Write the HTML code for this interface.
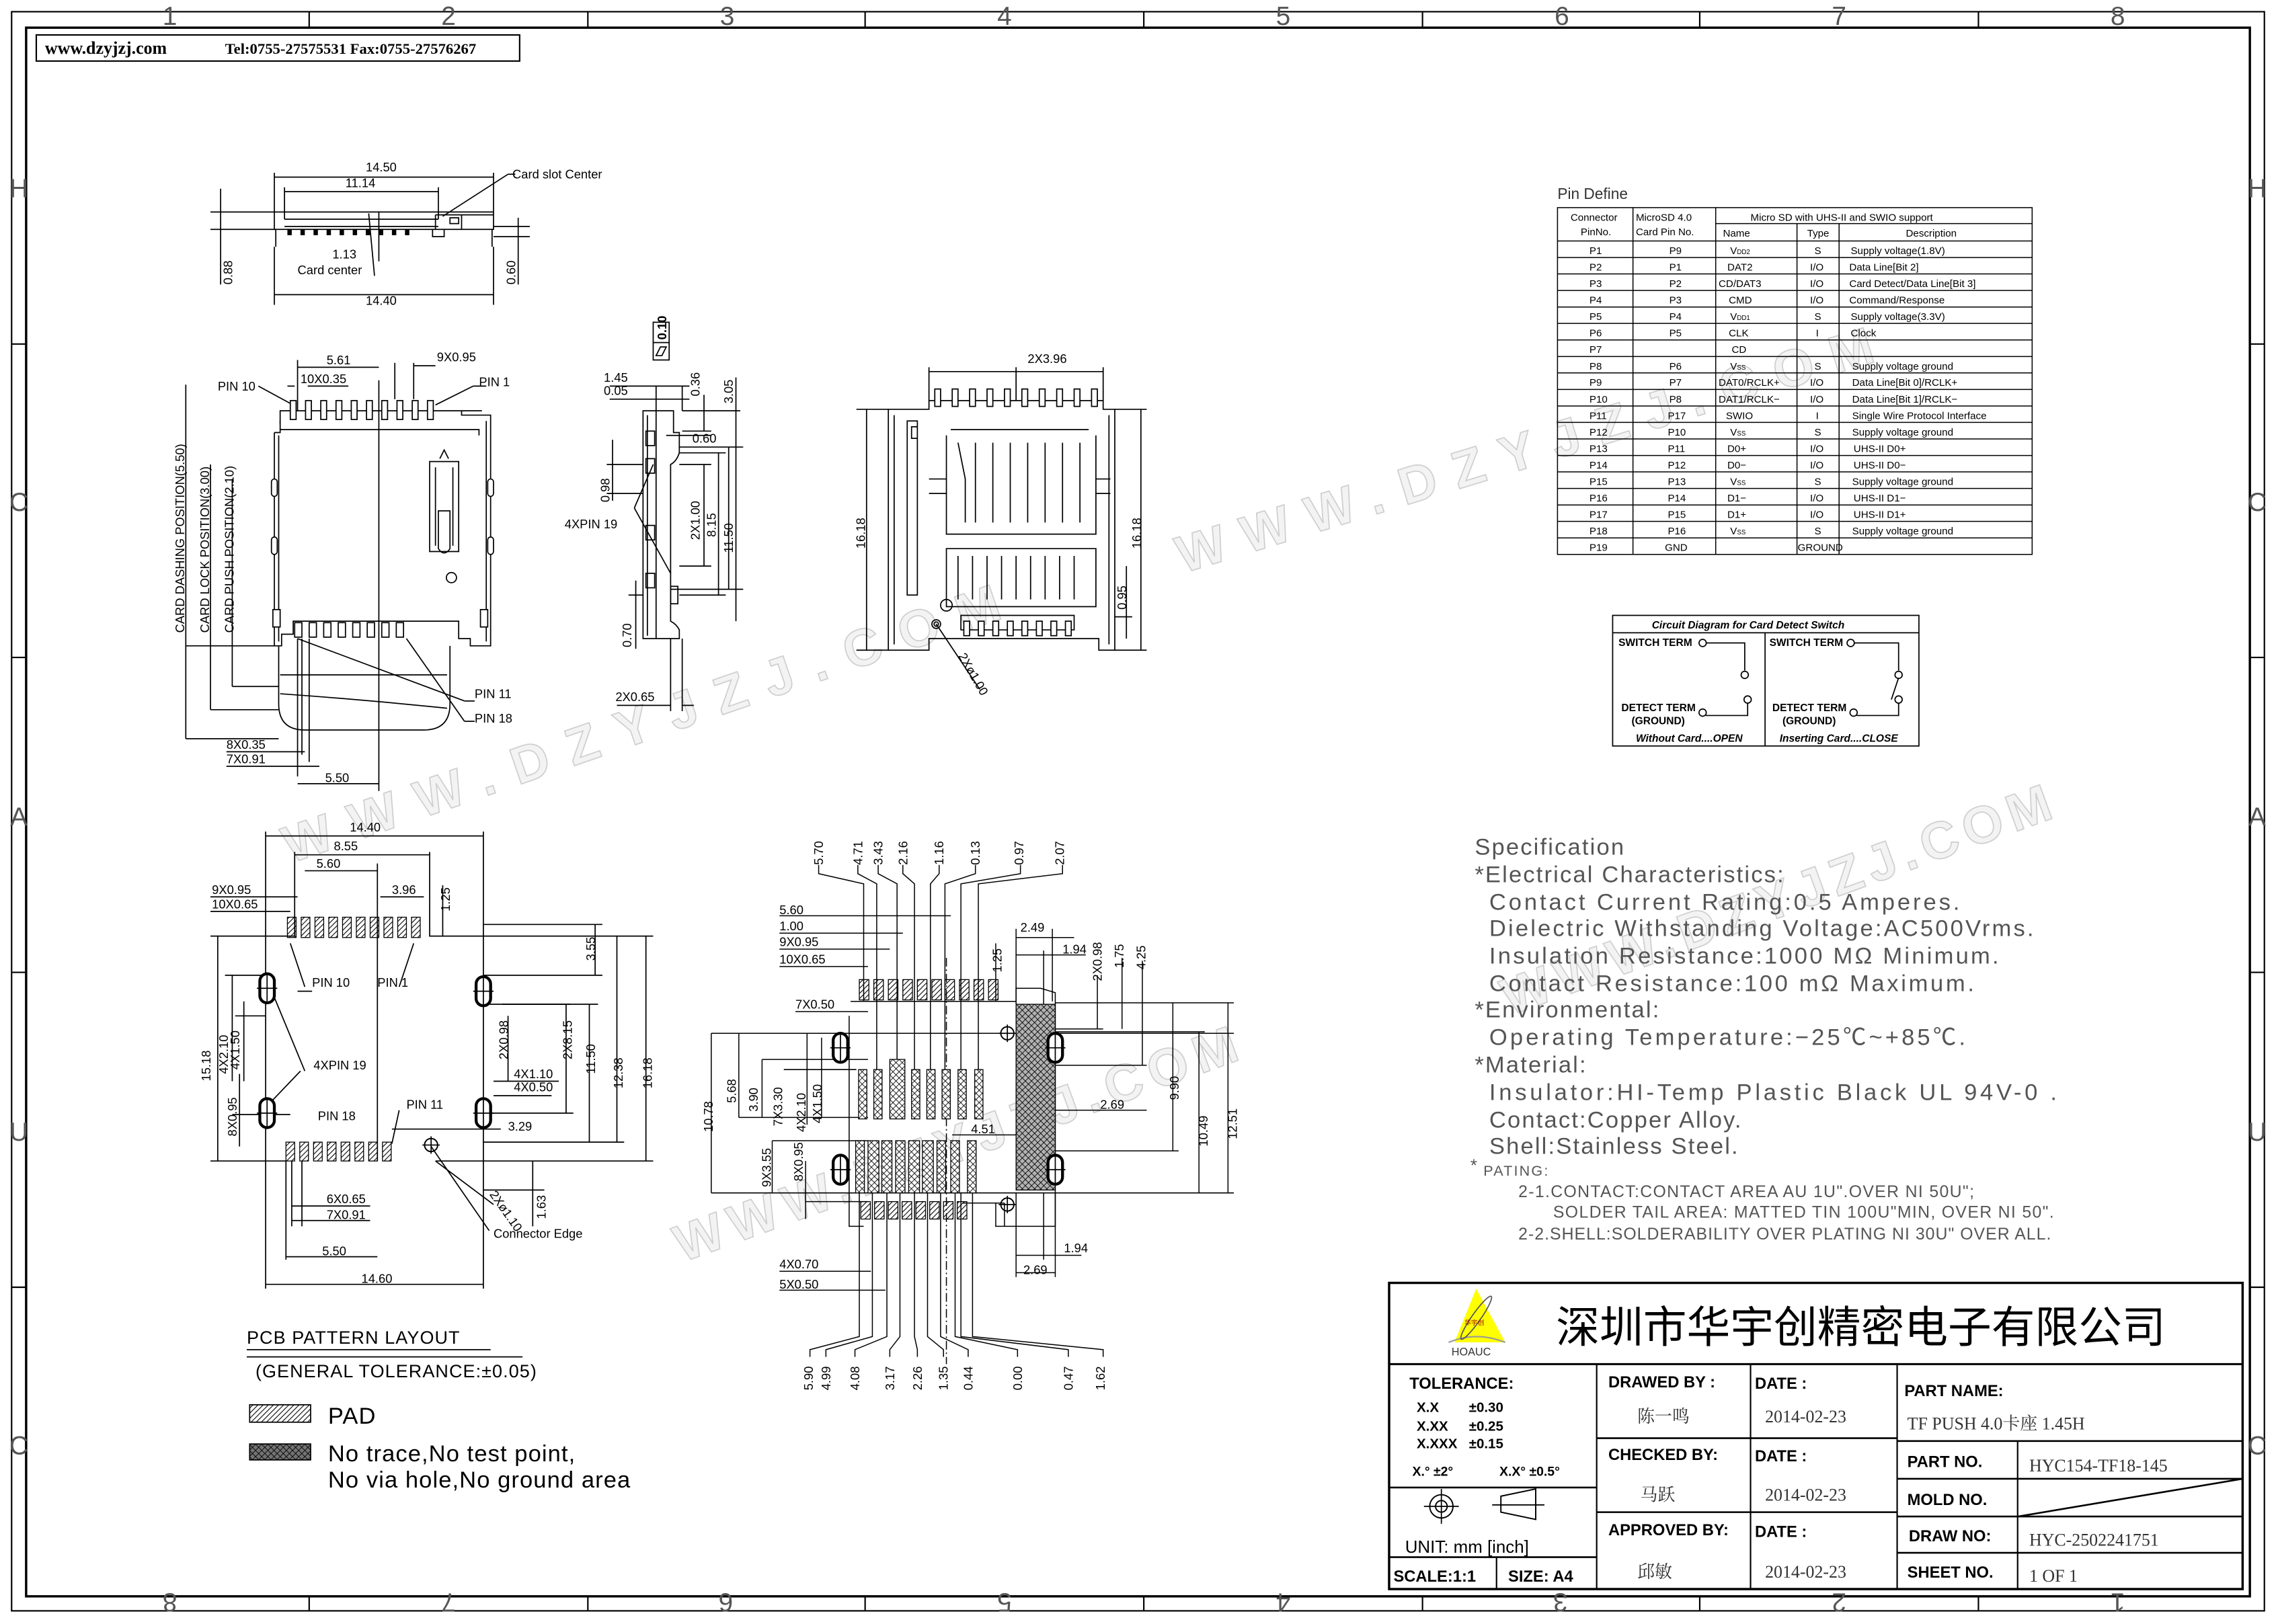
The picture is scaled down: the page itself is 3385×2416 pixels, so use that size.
<!DOCTYPE html>
<html><head><meta charset="utf-8"><style>
html,body{margin:0;padding:0;background:#fff}
svg{display:block}
text{font-family:"Liberation Sans","Noto Sans CJK SC",sans-serif;fill:#000}
.d{font-size:8.5px}
.sp{font-size:16px;fill:#555;letter-spacing:1px}
.g{font-size:18px;fill:#555}
.wm{fill:#f3f3f3;stroke:#cfcfcf;stroke-width:0.8px;font-size:36px;font-weight:bold}
.t3{fill:#333}
</style></head><body>
<svg width="3385" height="2416" viewBox="0 0 1568 1119" xmlns="http://www.w3.org/2000/svg">
<defs>
<pattern id="hh" width="2.5" height="2.5" patternUnits="userSpaceOnUse" patternTransform="rotate(45)"><line x1="0" y1="0" x2="0" y2="2.5" stroke="#000" stroke-width="1"/></pattern>
<pattern id="xx" width="3" height="3" patternUnits="userSpaceOnUse" patternTransform="rotate(45)"><rect width="3" height="3" fill="#fff"/><line x1="0" y1="0" x2="0" y2="3" stroke="#000" stroke-width="0.8"/><line x1="0" y1="0" x2="3" y2="0" stroke="#000" stroke-width="0.8"/></pattern>
<g id="ov"><rect x="-5" y="-10" width="10" height="20" rx="5" fill="#fff" stroke="#000" stroke-width="2"/><line x1="0" y1="-9" x2="0" y2="9" stroke="#000" stroke-width="0.8"/><line x1="-7" y1="0" x2="7" y2="0" stroke="#000" stroke-width="0.8"/></g>
<g id="cx"><circle r="4.5" fill="none" stroke="#000" stroke-width="0.9"/><line x1="-6" y1="0" x2="6" y2="0" stroke="#000" stroke-width="0.8"/><line x1="0" y1="-6" x2="0" y2="6" stroke="#000" stroke-width="0.8"/></g>
</defs>
<rect width="1568" height="1119" fill="#fff"/>

<!-- watermarks -->
<text class="wm" x="200" y="595" transform="rotate(-19 200 595)" textLength="520" lengthAdjust="spacing">WWW.DZYJZJ.COM</text>
<text class="wm" x="815" y="395" transform="rotate(-17 815 395)" textLength="500" lengthAdjust="spacing">WWW.DZYJZJ.COM</text>
<text class="wm" x="1040" y="700" transform="rotate(-20 1040 700)" textLength="400" lengthAdjust="spacing">WWW.DZYJZJ.COM</text>
<text class="wm" x="470" y="870" transform="rotate(-20 470 870)" textLength="410" lengthAdjust="spacing">WWW.DZYJZJ.COM</text>

<!-- frame -->
<g fill="none" stroke="#000">
<rect x="8" y="8" width="1552" height="1102" stroke-width="1"/>
<rect x="18" y="19" width="1532" height="1081" stroke-width="1.6"/>
</g>
<g stroke="#000" stroke-width="1">
<line x1="213" y1="8" x2="213" y2="19"/><line x1="405" y1="8" x2="405" y2="19"/><line x1="596" y1="8" x2="596" y2="19"/><line x1="788" y1="8" x2="788" y2="19"/><line x1="980" y1="8" x2="980" y2="19"/><line x1="1171" y1="8" x2="1171" y2="19"/><line x1="1363" y1="8" x2="1363" y2="19"/>
<line x1="213" y1="1100" x2="213" y2="1110"/><line x1="405" y1="1100" x2="405" y2="1110"/><line x1="596" y1="1100" x2="596" y2="1110"/><line x1="788" y1="1100" x2="788" y2="1110"/><line x1="980" y1="1100" x2="980" y2="1110"/><line x1="1171" y1="1100" x2="1171" y2="1110"/><line x1="1363" y1="1100" x2="1363" y2="1110"/>
<line x1="8" y1="237" x2="18" y2="237"/><line x1="8" y1="453" x2="18" y2="453"/><line x1="8" y1="670" x2="18" y2="670"/><line x1="8" y1="887" x2="18" y2="887"/>
<line x1="1550" y1="237" x2="1560" y2="237"/><line x1="1550" y1="453" x2="1560" y2="453"/><line x1="1550" y1="670" x2="1560" y2="670"/><line x1="1550" y1="887" x2="1560" y2="887"/>
</g>
<g class="g" text-anchor="middle">
<text class="g" x="117" y="17">1</text><text class="g" x="309" y="17">2</text><text class="g" x="501" y="17">3</text><text class="g" x="692" y="17">4</text><text class="g" x="884" y="17">5</text><text class="g" x="1076" y="17">6</text><text class="g" x="1267" y="17">7</text><text class="g" x="1459" y="17">8</text>
<g transform="rotate(180 784 1105)"><text class="g" x="109" y="1112">1</text><text class="g" x="301" y="1112">2</text><text class="g" x="493" y="1112">3</text><text class="g" x="684" y="1112">4</text><text class="g" x="876" y="1112">5</text><text class="g" x="1068" y="1112">6</text><text class="g" x="1259" y="1112">7</text><text class="g" x="1451" y="1112">8</text></g>
<text class="g" x="13" y="136">H</text><text class="g" x="13" y="352">C</text><text class="g" x="13" y="569">A</text><text class="g" x="13" y="786">U</text><text class="g" x="13" y="1002">C</text>
<text class="g" x="1555" y="136">H</text><text class="g" x="1555" y="352">C</text><text class="g" x="1555" y="569">A</text><text class="g" x="1555" y="786">U</text><text class="g" x="1555" y="1002">C</text>
</g>

<!-- header -->
<rect x="25" y="24" width="333" height="18" fill="#fff" stroke="#000" stroke-width="1"/>
<text x="31" y="37" font-size="12" font-weight="bold" style="font-family:'Liberation Serif'">www.dzyjzj.com</text>
<text x="155" y="37" font-size="10.5" style="font-family:'Liberation Serif'" font-weight="bold">Tel:0755-27575531  Fax:0755-27576267</text>

<!-- ============ TOP VIEW ============ -->
<g fill="none" stroke="#000" stroke-width="0.8">
<path d="M189 146 H340 V158 H189 Z"/>
<path d="M190 158 V170 M339 158 V170"/>
<path d="M196 151 H302 M196 156 H302"/>
<path d="M300 148 H340 M300 148 V158 M318 148 V158 M310 150 H316 V154 H310 Z"/>
<path d="M298 158 V163 H306 V158"/>
<line x1="189" y1="119" x2="189" y2="146"/><line x1="340" y1="119" x2="340" y2="146"/>
<line x1="189" y1="122" x2="340" y2="122"/>
<line x1="196" y1="129" x2="196" y2="151"/><line x1="302" y1="129" x2="302" y2="151"/>
<line x1="196" y1="132" x2="302" y2="132"/>
<line x1="189" y1="170" x2="189" y2="210"/><line x1="340" y1="170" x2="340" y2="210"/>
<line x1="189" y1="203" x2="340" y2="203"/>
<line x1="305" y1="149" x2="350" y2="120"/><line x1="350" y1="120" x2="355" y2="120"/>
<line x1="261" y1="146" x2="261" y2="180"/><line x1="254" y1="147" x2="258" y2="190"/>
<line x1="145" y1="146" x2="189" y2="146"/><line x1="145" y1="158" x2="189" y2="158"/><line x1="152" y1="130" x2="152" y2="196"/>
<line x1="340" y1="156" x2="365" y2="156"/><line x1="340" y1="163" x2="365" y2="163"/><line x1="357" y1="150" x2="357" y2="196"/>
</g>
<g fill="#000"><rect x="198" y="158" width="3" height="4"/><rect x="207" y="158" width="3" height="4"/><rect x="216" y="158" width="3" height="4"/><rect x="225" y="158" width="3" height="4"/><rect x="234" y="158" width="3" height="4"/><rect x="243" y="158" width="3" height="4"/><rect x="252" y="158" width="3" height="4"/><rect x="261" y="158" width="3" height="4"/><rect x="270" y="158" width="3" height="4"/><rect x="279" y="158" width="3" height="4"/></g>
<g class="d">
<text x="252" y="118">14.50</text><text x="238" y="129">11.14</text>
<text x="353" y="123">Card slot Center</text>
<text x="229" y="178">1.13</text><text x="205" y="189">Card center</text>
<text x="160" y="196" transform="rotate(-90 160 196)">0.88</text>
<text x="355" y="196" transform="rotate(-90 355 196)">0.60</text>
<text x="252" y="210">14.40</text>
</g>

<!-- ============ FRONT VIEW ============ -->
<g fill="none" stroke="#000" stroke-width="0.8">
<path d="M193 292 V283 H332 V283 M193 296 H330 V300"/>
<path d="M189 298 H193 V290 M189 298 V445 H194 V437 H202 V428 H316 V440 H324 V445 H338 V286 H318 V283"/>
<path d="M192 300 V442 M335 290 V442"/>
<path d="M296 318 H316 V380 H296 Z M300 322 V376 M312 322 V376 M302 352 V378 Q306 384 310 378 V352 Z M303 316 L306 310 L309 316"/>
<circle cx="311" cy="398" r="3.5"/>
<path d="M192 445 V485 Q192 503 210 503 H292 Q310 503 310 485 V445"/>
<path d="M193 465 H308 M193 478 Q250 482 308 488"/>
<line x1="261" y1="262" x2="261" y2="545"/>
<line x1="205" y1="253" x2="261" y2="253"/><line x1="205" y1="248" x2="205" y2="283"/>
<line x1="272" y1="250" x2="272" y2="275"/><line x1="285" y1="250" x2="285" y2="275"/><line x1="285" y1="252" x2="300" y2="252"/>
<line x1="198" y1="266" x2="203" y2="266"/><line x1="212" y1="266" x2="240" y2="266"/>
<line x1="178" y1="266" x2="202" y2="279"/><line x1="300" y1="279" x2="326" y2="266"/><line x1="326" y1="266" x2="335" y2="266"/>
<line x1="205" y1="440" x2="320" y2="483"/><line x1="320" y1="483" x2="327" y2="483"/>
<line x1="280" y1="440" x2="320" y2="497"/><line x1="320" y1="497" x2="327" y2="497"/>
<line x1="205" y1="440" x2="205" y2="535"/><line x1="208" y1="440" x2="208" y2="520"/><line x1="213" y1="440" x2="213" y2="525"/>
<line x1="128" y1="509" x2="192" y2="509"/><line x1="128" y1="265" x2="128" y2="509"/>
<line x1="145" y1="489" x2="192" y2="489"/><line x1="145" y1="320" x2="145" y2="489"/>
<line x1="160" y1="473" x2="192" y2="473"/><line x1="160" y1="330" x2="160" y2="473"/>
<line x1="189" y1="445" x2="128" y2="445"/>
<line x1="156" y1="518" x2="210" y2="518"/><line x1="156" y1="528" x2="220" y2="528"/>
<line x1="205" y1="540" x2="261" y2="540"/>
</g>
<g fill="#fff" stroke="#000" stroke-width="0.8">
<rect x="200" y="276" width="4" height="13"/><rect x="210.5" y="276" width="4" height="13"/><rect x="221" y="276" width="4" height="13"/><rect x="231.5" y="276" width="4" height="13"/><rect x="242" y="276" width="4" height="13"/><rect x="252.5" y="276" width="4" height="13"/><rect x="263" y="276" width="4" height="13"/><rect x="273.5" y="276" width="4" height="13"/><rect x="284" y="276" width="4" height="13"/><rect x="294.5" y="276" width="4" height="13"/>
<rect x="203" y="429" width="5" height="10"/><rect x="213" y="429" width="5" height="10"/><rect x="223" y="429" width="5" height="10"/><rect x="233" y="429" width="5" height="10"/><rect x="243" y="429" width="5" height="10"/><rect x="253" y="429" width="5" height="10"/><rect x="263" y="429" width="5" height="10"/><rect x="273" y="429" width="5" height="10"/>
<rect x="187" y="330" width="4" height="12" rx="2"/><rect x="187" y="370" width="4" height="12" rx="2"/><rect x="336" y="330" width="4" height="12" rx="2"/><rect x="336" y="370" width="4" height="12" rx="2"/><rect x="188" y="420" width="5" height="12"/><rect x="331" y="420" width="5" height="12"/>
</g>
<g class="d">
<text x="225" y="251">5.61</text><text x="301" y="249">9X0.95</text><text x="207" y="264">10X0.35</text>
<text x="150" y="269">PIN 10</text><text x="330" y="266">PIN 1</text>
<text x="327" y="481">PIN 11</text><text x="327" y="498">PIN 18</text>
<text x="156" y="516">8X0.35</text><text x="156" y="526">7X0.91</text><text x="224" y="539">5.50</text>
<text x="127" y="436" transform="rotate(-90 127 436)">CARD DASHING POSITION(5.50)</text>
<text x="144" y="436" transform="rotate(-90 144 436)">CARD LOCK POSITION(3.00)</text>
<text x="161" y="436" transform="rotate(-90 161 436)">CARD PUSH POSITION(2.10)</text>
</g>

<!-- ============ SIDE VIEW ============ -->
<g fill="none" stroke="#000" stroke-width="0.8">
<path d="M443 283 H464 V298 H468 V312 Q466 318 462 320 V428 Q466 430 468 434 V440 H443 Z"/>
<path d="M446 286 V438 M452 283 V440"/>
<rect x="445" y="297" width="6" height="10"/><rect x="445" y="316" width="6" height="10"/><rect x="445" y="362" width="6" height="10"/><rect x="445" y="395" width="6" height="10"/>
<rect x="462" y="404" width="5" height="12"/>
<line x1="452" y1="266" x2="452" y2="283"/><line x1="470" y1="266" x2="470" y2="283"/>
<line x1="420" y1="266" x2="475" y2="266"/><line x1="420" y1="275" x2="475" y2="275"/>
<line x1="470" y1="283" x2="510" y2="283"/><line x1="470" y1="297" x2="490" y2="297"/><line x1="485" y1="272" x2="485" y2="297"/>
<line x1="468" y1="308" x2="512" y2="308"/><line x1="507" y1="260" x2="507" y2="428"/>
<line x1="462" y1="406" x2="512" y2="406"/><line x1="502" y1="308" x2="502" y2="406"/>
<line x1="468" y1="312" x2="500" y2="312"/><line x1="468" y1="410" x2="500" y2="410"/><line x1="495" y1="312" x2="495" y2="410"/>
<line x1="468" y1="320" x2="490" y2="320"/><line x1="468" y1="390" x2="490" y2="390"/><line x1="485" y1="320" x2="485" y2="390"/>
<line x1="459" y1="300" x2="490" y2="300"/>
<line x1="418" y1="320" x2="443" y2="320"/><line x1="418" y1="340" x2="443" y2="340"/><line x1="422" y1="303" x2="422" y2="345"/>
<line x1="437" y1="350" x2="450" y2="320"/><line x1="437" y1="350" x2="462" y2="395"/>
<line x1="433" y1="410" x2="443" y2="410"/><line x1="438" y1="400" x2="438" y2="447"/>
<line x1="425" y1="486" x2="462" y2="486"/><line x1="462" y1="440" x2="462" y2="490"/><line x1="470" y1="440" x2="470" y2="490"/><line x1="470" y1="486" x2="478" y2="486"/>
<rect x="450" y="222" width="11" height="26"/><line x1="450" y1="236" x2="461" y2="236"/>
</g>
<g class="d">
<text x="459" y="234" transform="rotate(-90 459 234)" font-weight="bold">0.10</text>
<path d="M452 245 L455 239 L459 239 L456 245 Z" fill="none" stroke="#000" stroke-width="0.8"/>
<text x="416" y="263">1.45</text><text x="416" y="272">0.05</text>
<text x="482" y="273" transform="rotate(-90 482 273)">0.36</text>
<text x="505" y="278" transform="rotate(-90 505 278)">3.05</text>
<text x="477" y="305">0.60</text>
<text x="420" y="346" transform="rotate(-90 420 346)">0.98</text>
<text x="389" y="364">4XPIN 19</text>
<text x="482" y="372" transform="rotate(-90 482 372)">2X1.00</text>
<text x="493" y="370" transform="rotate(-90 493 370)">8.15</text>
<text x="505" y="381" transform="rotate(-90 505 381)">11.50</text>
<text x="435" y="446" transform="rotate(-90 435 446)">0.70</text>
<text x="424" y="483">2X0.65</text>
</g>

<!-- ============ RIGHT VIEW ============ -->
<g fill="none" stroke="#000" stroke-width="0.8">
<path d="M612 282 H640 V276 H760 V282 H768 V448 H757 V440 H640 V448 H612 Z"/>
<path d="M616 286 V444 M764 286 V444"/>
<path d="M625 290 H632 V410 H625 Z M628 294 H632 V302 H628 Z"/>
<path d="M655 296 H750 M652 300 L652 368 H755 V300"/>
<path d="M660 305 L665 330 V360 M672 305 V360 M684 305 V360 M696 305 V360 M708 305 V360 M720 305 V360 M732 305 V360 M744 305 V360"/>
<path d="M640 330 H652 M640 340 H652 M755 330 H765 M755 340 H765"/>
<path d="M652 378 H755 V418 H652 Z M660 383 V413 M670 383 V413 M680 383 V413 M690 383 V413 M700 383 V413 M710 383 V413 M720 383 V413 M730 383 V413 M740 383 V413"/>
<circle cx="652" cy="417" r="4"/><circle cx="645" cy="430" r="3"/><circle cx="645" cy="430" r="1.5"/>
<path d="M662 424 H740 V434 H662 Z"/>
<line x1="640" y1="253" x2="640" y2="276"/><line x1="700" y1="253" x2="700" y2="276"/><line x1="640" y1="256" x2="760" y2="256"/><line x1="760" y1="253" x2="760" y2="276"/>
<line x1="612" y1="282" x2="590" y2="282"/><line x1="612" y1="448" x2="590" y2="448"/><line x1="597" y1="282" x2="597" y2="448"/>
<line x1="768" y1="282" x2="790" y2="282"/><line x1="768" y1="448" x2="790" y2="448"/><line x1="786" y1="282" x2="786" y2="448"/>
<line x1="768" y1="425" x2="780" y2="425"/><line x1="776" y1="390" x2="776" y2="440"/>
<line x1="645" y1="430" x2="675" y2="475"/>
</g>
<g fill="#fff" stroke="#000" stroke-width="0.8">
<rect x="644" y="268" width="4" height="12"/><rect x="656" y="268" width="4" height="12"/><rect x="668" y="268" width="4" height="12"/><rect x="680" y="268" width="4" height="12"/><rect x="692" y="268" width="4" height="12"/><rect x="704" y="268" width="4" height="12"/><rect x="716" y="268" width="4" height="12"/><rect x="728" y="268" width="4" height="12"/><rect x="740" y="268" width="4" height="12"/><rect x="752" y="268" width="4" height="12"/>
<rect x="664" y="428" width="4" height="10"/><rect x="674" y="428" width="4" height="10"/><rect x="684" y="428" width="4" height="10"/><rect x="694" y="428" width="4" height="10"/><rect x="704" y="428" width="4" height="10"/><rect x="714" y="428" width="4" height="10"/><rect x="724" y="428" width="4" height="10"/><rect x="734" y="428" width="4" height="10"/>
</g>
<g class="d">
<text x="708" y="250">2X3.96</text>
<text x="596" y="378" transform="rotate(-90 596 378)">16.18</text>
<text x="786" y="378" transform="rotate(-90 786 378)">16.18</text>
<text x="776" y="420" transform="rotate(-90 776 420)">0.95</text>
<text x="660" y="452" transform="rotate(60 660 452)">2Xø1.00</text>
</g>

<!-- ============ PIN TABLE ============ -->
<text class="t3" x="1073" y="137" font-size="10.5">Pin Define</text>
<g fill="none" stroke="#000" stroke-width="0.7">
<rect x="1073" y="143" width="327" height="239"/>
<line x1="1125" y1="143" x2="1125" y2="382"/><line x1="1182" y1="143" x2="1182" y2="382"/>
<line x1="1238" y1="154" x2="1238" y2="382"/><line x1="1267" y1="154" x2="1267" y2="382"/>
<line x1="1182" y1="154" x2="1400" y2="154"/>
<path d="M1073 166H1400M1073 177.4H1400M1073 188.7H1400M1073 200.1H1400M1073 211.5H1400M1073 222.8H1400M1073 234.2H1400M1073 245.6H1400M1073 256.9H1400M1073 268.3H1400M1073 279.7H1400M1073 291H1400M1073 302.4H1400M1073 313.8H1400M1073 325.1H1400M1073 336.5H1400M1073 347.9H1400M1073 359.2H1400M1073 370.6H1400"/>
</g>
<g font-size="7">
<text x="1082" y="152">Connector</text><text x="1089" y="162">PinNo.</text>
<text x="1127" y="152">MicroSD 4.0</text><text x="1127" y="162">Card Pin No.</text>
<text x="1206" y="152">Micro SD with UHS-II and SWIO support</text>
<text x="1187" y="163">Name</text><text x="1245" y="163">Type</text><text x="1313" y="163">Description</text>
</g>
<g font-size="7">
<g><text x="1095" y="175">P1</text><text x="1150" y="175">P9</text><text x="1192" y="175">V<tspan font-size="4.5">DD2</tspan></text><text x="1250" y="175">S</text><text x="1275" y="175">Supply voltage(1.8V)</text></g>
<g><text x="1095" y="186.4">P2</text><text x="1150" y="186.4">P1</text><text x="1190" y="186.4">DAT2</text><text x="1247" y="186.4">I/O</text><text x="1274" y="186.4">Data Line[Bit 2]</text></g>
<g><text x="1095" y="197.7">P3</text><text x="1150" y="197.7">P2</text><text x="1184" y="197.7">CD/DAT3</text><text x="1247" y="197.7">I/O</text><text x="1274" y="197.7">Card Detect/Data Line[Bit 3]</text></g>
<g><text x="1095" y="209.1">P4</text><text x="1150" y="209.1">P3</text><text x="1191" y="209.1">CMD</text><text x="1247" y="209.1">I/O</text><text x="1274" y="209.1">Command/Response</text></g>
<g><text x="1095" y="220.5">P5</text><text x="1150" y="220.5">P4</text><text x="1192" y="220.5">V<tspan font-size="4.5">DD1</tspan></text><text x="1250" y="220.5">S</text><text x="1275" y="220.5">Supply voltage(3.3V)</text></g>
<g><text x="1095" y="231.8">P6</text><text x="1150" y="231.8">P5</text><text x="1191" y="231.8">CLK</text><text x="1251" y="231.8">I</text><text x="1275" y="231.8">Clock</text></g>
<g><text x="1095" y="243.2">P7</text><text x="1193" y="243.2">CD</text></g>
<g><text x="1095" y="254.6">P8</text><text x="1150" y="254.6">P6</text><text x="1192" y="254.6">V<tspan font-size="4.5">SS</tspan></text><text x="1250" y="254.6">S</text><text x="1276" y="254.6">Supply voltage ground</text></g>
<g><text x="1095" y="265.9">P9</text><text x="1150" y="265.9">P7</text><text x="1184" y="265.9">DAT0/RCLK+</text><text x="1247" y="265.9">I/O</text><text x="1276" y="265.9">Data Line[Bit 0]/RCLK+</text></g>
<g><text x="1095" y="277.3">P10</text><text x="1150" y="277.3">P8</text><text x="1184" y="277.3">DAT1/RCLK−</text><text x="1247" y="277.3">I/O</text><text x="1276" y="277.3">Data Line[Bit 1]/RCLK−</text></g>
<g><text x="1095" y="288.7">P11</text><text x="1149" y="288.7">P17</text><text x="1189" y="288.7">SWIO</text><text x="1251" y="288.7">I</text><text x="1276" y="288.7">Single Wire Protocol Interface</text></g>
<g><text x="1095" y="300">P12</text><text x="1149" y="300">P10</text><text x="1192" y="300">V<tspan font-size="4.5">SS</tspan></text><text x="1250" y="300">S</text><text x="1276" y="300">Supply voltage ground</text></g>
<g><text x="1095" y="311.4">P13</text><text x="1149" y="311.4">P11</text><text x="1190" y="311.4">D0+</text><text x="1247" y="311.4">I/O</text><text x="1277" y="311.4">UHS-II D0+</text></g>
<g><text x="1095" y="322.8">P14</text><text x="1149" y="322.8">P12</text><text x="1190" y="322.8">D0−</text><text x="1247" y="322.8">I/O</text><text x="1277" y="322.8">UHS-II D0−</text></g>
<g><text x="1095" y="334.1">P15</text><text x="1149" y="334.1">P13</text><text x="1192" y="334.1">V<tspan font-size="4.5">SS</tspan></text><text x="1250" y="334.1">S</text><text x="1276" y="334.1">Supply voltage ground</text></g>
<g><text x="1095" y="345.5">P16</text><text x="1149" y="345.5">P14</text><text x="1190" y="345.5">D1−</text><text x="1247" y="345.5">I/O</text><text x="1277" y="345.5">UHS-II D1−</text></g>
<g><text x="1095" y="356.9">P17</text><text x="1149" y="356.9">P15</text><text x="1190" y="356.9">D1+</text><text x="1247" y="356.9">I/O</text><text x="1277" y="356.9">UHS-II D1+</text></g>
<g><text x="1095" y="368.2">P18</text><text x="1149" y="368.2">P16</text><text x="1192" y="368.2">V<tspan font-size="4.5">SS</tspan></text><text x="1250" y="368.2">S</text><text x="1276" y="368.2">Supply voltage ground</text></g>
<g><text x="1095" y="379.6">P19</text><text x="1147" y="379.6">GND</text><text x="1238.5" y="379.6">GROUND</text></g>
</g>

<!-- ============ CIRCUIT ============ -->
<g fill="none" stroke="#000" stroke-width="0.8">
<rect x="1111" y="424" width="211" height="90"/>
<line x1="1111" y1="436" x2="1322" y2="436"/><line x1="1216" y1="436" x2="1216" y2="514"/>
<circle cx="1173" cy="443" r="2.5"/><path d="M1175.5 443 H1202 V462"/><circle cx="1202" cy="465" r="2.5"/><circle cx="1204" cy="482" r="2.5"/><path d="M1204 484.5 V493 H1175"/><circle cx="1173" cy="491" r="2.5"/>
<circle cx="1275" cy="443" r="2.5"/><path d="M1277.5 443 H1308 V462"/><circle cx="1308" cy="465" r="2.5"/><line x1="1308" y1="467" x2="1303" y2="482"/><circle cx="1308" cy="482" r="2.5"/><path d="M1308 484.5 V493 H1279"/><circle cx="1277" cy="491" r="2.5"/>
</g>
<g font-size="7.2" font-weight="bold">
<text x="1138" y="433" font-style="italic">Circuit Diagram for Card Detect Switch</text>
<text x="1115" y="445">SWITCH TERM</text><text x="1117" y="490">DETECT TERM</text><text x="1124" y="499">(GROUND)</text>
<text x="1127" y="511" font-style="italic">Without Card....OPEN</text>
<text x="1219" y="445">SWITCH TERM</text><text x="1221" y="490">DETECT TERM</text><text x="1228" y="499">(GROUND)</text>
<text x="1226" y="511" font-style="italic">Inserting Card....CLOSE</text>
</g>

<!-- ============ SPEC ============ -->
<g>
<text class="sp" x="1016" y="589">Specification</text>
<text class="sp" x="1016" y="608">*Electrical Characteristics:</text>
<text class="sp" x="1026" y="627" textLength="325">Contact Current Rating:0.5 Amperes.</text>
<text class="sp" x="1026" y="645" textLength="376">Dielectric Withstanding Voltage:AC500Vrms.</text>
<text class="sp" x="1026" y="664" textLength="352">Insulation Resistance:1000 MΩ Minimum.</text>
<text class="sp" x="1026" y="683" textLength="335">Contact Resistance:100 mΩ Maximum.</text>
<text class="sp" x="1016" y="701">*Environmental:</text>
<text class="sp" x="1026" y="720" textLength="329">Operating Temperature:−25℃~+85℃.</text>
<text class="sp" x="1016" y="739">*Material:</text>
<text class="sp" x="1026" y="758" textLength="392">Insulator:HI-Temp Plastic Black UL 94V-0 .</text>
<text class="sp" x="1026" y="777">Contact:Copper Alloy.</text>
<text class="sp" x="1026" y="795">Shell:Stainless Steel.</text>
<text class="sp" x="1013" y="807" style="font-size:12px">*</text><text class="sp" x="1022" y="810" style="font-size:10px">PATING:</text>
<text class="sp" x="1046" y="825" style="font-size:11.5px" textLength="315">2-1.CONTACT:CONTACT AREA AU 1U".OVER NI 50U";</text>
<text class="sp" x="1070" y="839" style="font-size:11.5px" textLength="346">SOLDER TAIL AREA: MATTED TIN 100U"MIN, OVER NI 50".</text>
<text class="sp" x="1046" y="854" style="font-size:11.5px" textLength="368">2-2.SHELL:SOLDERABILITY OVER PLATING NI 30U" OVER ALL.</text>
</g>

<!-- ============ PCB LAYOUT (left) ============ -->
<g fill="none" stroke="#000" stroke-width="0.8">
<path d="M183 645 H203 V632 M296 632 V645 H333 V800 H300 M183 645 V800 H197"/>
<line x1="183" y1="573" x2="183" y2="645"/><line x1="333" y1="573" x2="333" y2="645"/><line x1="183" y1="576" x2="333" y2="576"/>
<line x1="203" y1="587" x2="203" y2="632"/><line x1="296" y1="587" x2="296" y2="632"/><line x1="203" y1="589" x2="296" y2="589"/>
<line x1="210" y1="600" x2="260" y2="600"/><line x1="260" y1="595" x2="260" y2="800"/>
<line x1="262" y1="618" x2="292" y2="618"/>
<line x1="145" y1="618" x2="205" y2="618"/><line x1="145" y1="628" x2="200" y2="628"/>
<line x1="305" y1="610" x2="305" y2="645"/>
<line x1="333" y1="637" x2="415" y2="637"/><line x1="333" y1="672" x2="415" y2="672"/><line x1="410" y1="637" x2="410" y2="672"/>
<line x1="333" y1="800" x2="450" y2="800"/><line x1="445" y1="645" x2="445" y2="800"/><line x1="333" y1="645" x2="450" y2="645"/>
<line x1="333" y1="787" x2="430" y2="787"/><line x1="425" y1="645" x2="425" y2="787"/>
<line x1="333" y1="692" x2="412" y2="692"/><line x1="406" y1="692" x2="406" y2="787"/>
<line x1="346" y1="692" x2="393" y2="692"/><line x1="390" y1="692" x2="390" y2="767"/><line x1="333" y1="767" x2="395" y2="767"/>
<line x1="350" y1="700" x2="350" y2="745"/>
<line x1="340" y1="745" x2="385" y2="745"/><line x1="340" y1="755" x2="380" y2="755"/>
<line x1="145" y1="645" x2="183" y2="645"/><line x1="145" y1="800" x2="183" y2="800"/><line x1="150" y1="645" x2="150" y2="800"/>
<line x1="155" y1="672" x2="183" y2="672"/><line x1="162" y1="700" x2="183" y2="700"/><line x1="160" y1="672" x2="160" y2="745"/><line x1="168" y1="690" x2="168" y2="745"/>
<line x1="160" y1="768" x2="200" y2="768"/><line x1="165" y1="740" x2="165" y2="790"/>
<line x1="205" y1="683" x2="215" y2="683"/><line x1="200" y1="650" x2="210" y2="680"/><line x1="285" y1="650" x2="275" y2="680"/>
<line x1="207" y1="738" x2="186" y2="760"/><line x1="210" y1="738" x2="186" y2="680"/>
<line x1="275" y1="765" x2="270" y2="788"/>
<line x1="270" y1="778" x2="345" y2="778"/>
<line x1="297" y1="790" x2="337" y2="848"/><line x1="300" y1="800" x2="340" y2="830"/>
<line x1="367" y1="800" x2="367" y2="845"/><line x1="333" y1="820" x2="375" y2="820"/>
<line x1="197" y1="800" x2="197" y2="868"/><line x1="201" y1="800" x2="201" y2="845"/><line x1="208" y1="800" x2="208" y2="845"/>
<line x1="201" y1="831" x2="255" y2="831"/><line x1="201" y1="841" x2="255" y2="841"/>
<line x1="197" y1="866" x2="260" y2="866"/>
<line x1="183" y1="800" x2="183" y2="888"/><line x1="333" y1="800" x2="333" y2="888"/><line x1="183" y1="885" x2="333" y2="885"/>
</g>
<g fill="url(#hh)" stroke="#000" stroke-width="0.6">
<rect x="198" y="632" width="6" height="14"/><rect x="207.5" y="632" width="6" height="14"/><rect x="217" y="632" width="6" height="14"/><rect x="226.5" y="632" width="6" height="14"/><rect x="236" y="632" width="6" height="14"/><rect x="245.5" y="632" width="6" height="14"/><rect x="255" y="632" width="6" height="14"/><rect x="264.5" y="632" width="6" height="14"/><rect x="274" y="632" width="6" height="14"/><rect x="283.5" y="632" width="6" height="14"/>
<rect x="197" y="787" width="6" height="13"/><rect x="206.5" y="787" width="6" height="13"/><rect x="216" y="787" width="6" height="13"/><rect x="225.5" y="787" width="6" height="13"/><rect x="235" y="787" width="6" height="13"/><rect x="244.5" y="787" width="6" height="13"/><rect x="254" y="787" width="6" height="13"/><rect x="263.5" y="787" width="6" height="13"/>
</g>
<use href="#ov" x="184" y="681"/><use href="#ov" x="333" y="683"/><use href="#ov" x="184" y="767"/><use href="#ov" x="333" y="767"/>
<use href="#cx" x="297" y="789"/>
<g class="d">
<text x="241" y="573">14.40</text><text x="230" y="586">8.55</text><text x="218" y="598">5.60</text><text x="270" y="616">3.96</text>
<text x="146" y="616">9X0.95</text><text x="146" y="626">10X0.65</text>
<text x="310" y="628" transform="rotate(-90 310 628)">1.25</text>
<text x="215" y="680">PIN 10</text><text x="260" y="680">PIN 1</text>
<text x="410" y="662" transform="rotate(-90 410 662)">3.55</text>
<text x="145" y="745" transform="rotate(-90 145 745)">15.18</text>
<text x="157" y="740" transform="rotate(-90 157 740)">4X2.10</text>
<text x="165" y="737" transform="rotate(-90 165 737)">4X1.50</text>
<text x="216" y="737">4XPIN 19</text>
<text x="350" y="730" transform="rotate(-90 350 730)">2X0.98</text>
<text x="394" y="730" transform="rotate(-90 394 730)">2X8.15</text>
<text x="410" y="740" transform="rotate(-90 410 740)">11.50</text>
<text x="429" y="750" transform="rotate(-90 429 750)">12.38</text>
<text x="449" y="750" transform="rotate(-90 449 750)">16.18</text>
<text x="354" y="743">4X1.10</text><text x="354" y="752">4X0.50</text>
<text x="163" y="783" transform="rotate(-90 163 783)">8X0.95</text>
<text x="219" y="772">PIN 18</text><text x="280" y="764">PIN 11</text>
<text x="350" y="779">3.29</text>
<text x="337" y="823" transform="rotate(55 337 823)">2Xø1.10</text>
<text x="376" y="840" transform="rotate(-90 376 840)">1.63</text>
<text x="225" y="829">6X0.65</text><text x="225" y="840">7X0.91</text>
<text x="222" y="865">5.50</text><text x="340" y="853">Connector Edge</text>
<text x="249" y="884">14.60</text>
</g>
<g font-size="12.5">
<text x="170" y="926" letter-spacing="0.5">PCB PATTERN LAYOUT</text>
<line x1="170" y1="930" x2="338" y2="930" stroke="#000" stroke-width="0.8"/>
<text x="176" y="949" letter-spacing="0.5">(GENERAL TOLERANCE:±0.05)</text>
</g>
<line x1="170" y1="935" x2="360" y2="935" stroke="#000" stroke-width="0.8"/>
<rect x="172" y="968" width="42" height="12" fill="url(#hh)" stroke="#000" stroke-width="0.8"/>
<rect x="172" y="995" width="42" height="11" fill="url(#xx)" stroke="#000" stroke-width="0.8"/>
<rect x="172" y="995" width="42" height="11" fill="#000" opacity="0.55"/>
<g font-size="16" letter-spacing="0.5"><text x="226" y="981">PAD</text><text x="226" y="1007">No trace,No test point,</text><text x="226" y="1025">No via hole,No ground area</text></g>

<!-- ============ BIG LAYOUT ============ -->
<g fill="none" stroke="#000" stroke-width="0.7">
<path d="M586 690 H700 M585 700 V845 H595 M686 829 V845 H727 V692 M700 680 V692"/>
<line x1="663" y1="829" x2="692" y2="829"/><line x1="692" y1="829" x2="692" y2="845"/>
<path d="M700 681 H717 L727 684 V692" />
<line x1="652" y1="660" x2="652" y2="940" stroke-dasharray="6 2 1 2"/>
<line x1="490" y1="712" x2="850" y2="712"/><line x1="490" y1="822" x2="850" y2="822"/>
<line x1="490" y1="712" x2="490" y2="822"/>
<line x1="727" y1="691" x2="850" y2="691"/><line x1="846" y1="691" x2="846" y2="822"/>
<line x1="727" y1="711" x2="830" y2="711"/><line x1="826" y1="711" x2="826" y2="822"/>
<line x1="727" y1="793" x2="812" y2="793"/><line x1="808" y1="691" x2="808" y2="793"/>
<line x1="720" y1="709" x2="760" y2="709"/><line x1="756" y1="672" x2="756" y2="709"/><line x1="773" y1="660" x2="773" y2="709"/>
<line x1="720" y1="734" x2="790" y2="734"/><line x1="787" y1="662" x2="787" y2="734"/>
<line x1="727" y1="765" x2="790" y2="765"/>
<line x1="656" y1="782" x2="700" y2="782"/>
<line x1="700" y1="646" x2="740" y2="646"/><line x1="700" y1="640" x2="700" y2="690"/><line x1="725" y1="640" x2="725" y2="690"/><line x1="700" y1="658" x2="748" y2="658"/><line x1="719" y1="655" x2="719" y2="723"/>
<line x1="700" y1="865" x2="745" y2="865"/><line x1="719" y1="822" x2="719" y2="868"/><line x1="700" y1="822" x2="700" y2="880"/><line x1="727" y1="822" x2="727" y2="880"/><line x1="700" y1="877" x2="727" y2="877"/>
<line x1="537" y1="631" x2="655" y2="631"/><line x1="537" y1="643" x2="622" y2="643"/><line x1="537" y1="654" x2="613" y2="654"/><line x1="537" y1="666" x2="598" y2="666"/>
<line x1="548" y1="697" x2="598" y2="697"/>
<line x1="686" y1="650" x2="686" y2="690"/>
<line x1="509" y1="712" x2="509" y2="770"/><line x1="509" y1="770" x2="598" y2="770"/><line x1="525" y1="730" x2="525" y2="770"/><line x1="525" y1="730" x2="598" y2="730"/>
<line x1="540" y1="737" x2="590" y2="737"/><line x1="556" y1="712" x2="556" y2="775"/><line x1="566" y1="715" x2="566" y2="770"/>
<line x1="532" y1="786" x2="598" y2="786"/><line x1="532" y1="786" x2="532" y2="822"/>
<line x1="555" y1="828" x2="598" y2="828"/><line x1="555" y1="800" x2="555" y2="840"/>
<line x1="537" y1="876" x2="600" y2="876"/><line x1="537" y1="889" x2="610" y2="889"/>
</g>
<g fill="none" stroke="#000" stroke-width="0.7">
<path d="M564 596 V602 L595 609 V690"/><path d="M591 596 V602 L604 609 V737"/><path d="M605 596 V602 L618 609 V737"/><path d="M622 596 V602 L630 609 V737"/><path d="M647 596 V602 L641 609 V737"/><path d="M672 596 V602 L651 609 V737"/><path d="M703 596 V602 L662 609 V737"/><path d="M732 596 V602 L674 609 V737"/>
<path d="M558 935 V930 L592 921 V822"/><path d="M569 935 V930 L601 921 V822"/><path d="M589 935 V930 L611 921 V822"/><path d="M613 935 V930 L620 921 V822"/><path d="M632 935 V930 L630 921 V822"/><path d="M650 935 V930 L639 921 V822"/><path d="M667 935 V930 L648 921 V822"/><path d="M701 935 V930 L658 921 V822"/><path d="M736 935 V930 L662 921 V822"/><path d="M760 935 V930 L670 921 V822"/>
</g>
<g fill="url(#hh)" stroke="#000" stroke-width="0.6">
<rect x="592" y="675" width="6.6" height="14"/><rect x="602" y="675" width="6.6" height="14"/><rect x="612" y="675" width="6.6" height="14"/><rect x="622" y="675" width="6.6" height="14"/><rect x="632" y="675" width="6.6" height="14"/><rect x="642" y="675" width="6.6" height="14"/><rect x="651" y="675" width="6.6" height="14"/><rect x="661" y="675" width="6.6" height="14"/><rect x="671" y="675" width="6.6" height="14"/><rect x="681" y="675" width="6.6" height="14"/>
<rect x="593" y="828" width="6.6" height="12"/><rect x="602.5" y="828" width="6.6" height="12"/><rect x="612" y="828" width="6.6" height="12"/><rect x="621.5" y="828" width="6.6" height="12"/><rect x="631" y="828" width="6.6" height="12"/><rect x="640.5" y="828" width="6.6" height="12"/><rect x="650" y="828" width="6.6" height="12"/><rect x="659.5" y="828" width="6.6" height="12"/>
</g>
<g fill="url(#xx)" stroke="#000" stroke-width="0.6">
<rect x="591.5" y="737" width="5.7" height="34"/><rect x="602" y="737" width="5.7" height="34"/><rect x="613" y="730" width="10.4" height="41"/><rect x="628" y="737" width="5.7" height="34"/><rect x="638.5" y="737" width="5.7" height="34"/><rect x="649" y="737" width="5.7" height="34"/><rect x="660" y="737" width="5.7" height="34"/><rect x="671.5" y="737" width="5.7" height="34"/>
<rect x="589.5" y="786" width="6" height="36"/><rect x="598" y="786" width="7.5" height="36"/><rect x="607.5" y="786" width="7" height="36"/><rect x="617" y="786" width="6.5" height="36"/><rect x="626" y="786" width="7.5" height="36"/><rect x="635.5" y="786" width="7.5" height="36"/><rect x="645.5" y="786" width="6" height="36"/><rect x="655" y="786" width="6" height="36"/><rect x="666.5" y="786" width="6" height="36"/>
<rect x="700" y="692" width="27" height="128"/>
</g>
<rect x="700" y="692" width="27" height="128" fill="#000" opacity="0.3"/>
<use href="#ov" x="579" y="722"/><use href="#ov" x="579" y="806"/><use href="#ov" x="727" y="722"/><use href="#ov" x="727" y="806"/>
<use href="#cx" x="694" y="712"/><use href="#cx" x="694" y="830"/>
<g class="d">
<g transform="rotate(-90)">
<text x="-596" y="567">5.70</text><text x="-596" y="594">4.71</text><text x="-596" y="608">3.43</text><text x="-596" y="625">2.16</text><text x="-596" y="650">1.16</text><text x="-596" y="675">0.13</text><text x="-596" y="705">0.97</text><text x="-596" y="733">2.07</text>
<text x="-958" y="560">5.90</text><text x="-958" y="572">4.99</text><text x="-958" y="592">4.08</text><text x="-958" y="616">3.17</text><text x="-958" y="635">2.26</text><text x="-958" y="653">1.35</text><text x="-958" y="670">0.44</text><text x="-958" y="704">0.00</text><text x="-958" y="739">0.47</text><text x="-958" y="761">1.62</text>
<text x="-780" y="491">10.78</text><text x="-760" y="507">5.68</text><text x="-766" y="522">3.90</text><text x="-776" y="539">7X3.30</text><text x="-780" y="555">4X2.10</text><text x="-774" y="566">4X1.50</text><text x="-818" y="531">9X3.55</text><text x="-814" y="553">8X0.95</text>
<text x="-670" y="690">1.25</text><text x="-676" y="759">2X0.98</text><text x="-667" y="774">1.75</text><text x="-668" y="789">4.25</text>
<text x="-758" y="812">9.90</text><text x="-790" y="832">10.49</text><text x="-785" y="852">12.51</text>
</g>
<text x="537" y="630">5.60</text><text x="537" y="641">1.00</text><text x="537" y="652">9X0.95</text><text x="537" y="664">10X0.65</text>
<text x="548" y="695">7X0.50</text>
<text x="703" y="642">2.49</text><text x="732" y="657">1.94</text>
<text x="758" y="764">2.69</text><text x="669" y="781">4.51</text>
<text x="733" y="863">1.94</text><text x="705" y="878">2.69</text>
<text x="537" y="874">4X0.70</text><text x="537" y="888">5X0.50</text>
</g>

<!-- ============ TITLE BLOCK ============ -->
<g fill="none" stroke="#000">
<rect x="957" y="884" width="588" height="211" stroke-width="1.6"/>
<line x1="957" y1="940" x2="1545" y2="940" stroke-width="1.4"/>
<line x1="1100" y1="940" x2="1100" y2="1095" stroke-width="1"/>
<line x1="1206" y1="940" x2="1206" y2="1095" stroke-width="1"/>
<line x1="1307" y1="940" x2="1307" y2="1095" stroke-width="1"/>
<line x1="1390" y1="993" x2="1390" y2="1095" stroke-width="1"/>
<line x1="1100" y1="991" x2="1307" y2="991" stroke-width="1.2"/>
<line x1="1100" y1="1042" x2="1307" y2="1042" stroke-width="1.2"/>
<line x1="1307" y1="993" x2="1545" y2="993" stroke-width="1.2"/>
<line x1="1307" y1="1019" x2="1545" y2="1019" stroke-width="1.2"/>
<line x1="1307" y1="1045" x2="1545" y2="1045" stroke-width="1.2"/>
<line x1="1307" y1="1070" x2="1545" y2="1070" stroke-width="1.2"/>
<line x1="1390" y1="1045" x2="1545" y2="1019" stroke-width="1.2"/>
<line x1="957" y1="1025" x2="1100" y2="1025" stroke-width="1.2"/>
<line x1="957" y1="1073" x2="1100" y2="1073" stroke-width="1.2"/>
<line x1="1031" y1="1073" x2="1031" y2="1095" stroke-width="1"/>
<circle cx="993" cy="1038" r="8" stroke-width="0.9"/><circle cx="993" cy="1038" r="4" stroke-width="0.9"/>
<line x1="981" y1="1038" x2="1005" y2="1038" stroke-width="0.8"/><line x1="993" y1="1026" x2="993" y2="1050" stroke-width="0.8"/>
<path d="M1034 1031 L1058 1026 V1047 L1034 1042 Z M1028 1037 H1064" stroke-width="0.9"/>
</g>
<path d="M1017 888 L1002 925 H1037 Z" fill="#ff0"/>
<path d="M998 925 Q1017 917 1037 925" fill="none" stroke="#999" stroke-width="1"/>
<ellipse cx="1017" cy="908" rx="18" ry="3" transform="rotate(-55 1017 908)" fill="none" stroke="#555" stroke-width="0.8"/>
<text x="1009" y="913" font-size="4.5" style="fill:#900">华宇创</text>
<text class="t3" x="1000" y="934" font-size="7.5">HOAUC</text>
<text x="1072" y="925" font-size="30" style="font-family:'Noto Sans CJK SC',sans-serif">深圳市华宇创精密电子有限公司</text>
<g font-size="11" font-weight="bold">
<text x="971" y="957">TOLERANCE:</text>
<text x="976" y="973" font-size="9.5">X.X</text><text x="1012" y="973" font-size="9.5">±0.30</text>
<text x="976" y="986" font-size="9.5">X.XX</text><text x="1012" y="986" font-size="9.5">±0.25</text>
<text x="976" y="998" font-size="9.5">X.XXX</text><text x="1012" y="998" font-size="9.5">±0.15</text>
<text x="973" y="1017" font-size="9">X.° ±2°</text><text x="1033" y="1017" font-size="9">X.X° ±0.5°</text>
<text x="968" y="1070" font-weight="normal" font-size="12">UNIT: mm [inch]</text>
<text x="960" y="1090">SCALE:1:1</text><text x="1039" y="1090">SIZE: A4</text>
<text x="1108" y="956">DRAWED BY :</text><text x="1209" y="957">DATE :</text>
<text x="1108" y="1006">CHECKED BY:</text><text x="1209" y="1007">DATE :</text>
<text x="1108" y="1058">APPROVED BY:</text><text x="1209" y="1059">DATE :</text>
<text x="1312" y="962">PART NAME:</text>
<text x="1314" y="1011">PART NO.</text><text x="1314" y="1037">MOLD NO.</text>
<text x="1315" y="1062">DRAW NO:</text><text x="1314" y="1087">SHEET NO.</text>
</g>
<g font-size="12">
<text class="t3" x="1128" y="980" style="font-family:'Noto Serif CJK SC',serif">陈一鸣</text>
<text class="t3" x="1216" y="980" style="font-family:'Liberation Serif',serif">2014-02-23</text>
<text class="t3" x="1130" y="1034" style="font-family:'Noto Serif CJK SC',serif">马跃</text>
<text class="t3" x="1216" y="1034" style="font-family:'Liberation Serif',serif">2014-02-23</text>
<text class="t3" x="1128" y="1087" style="font-family:'Noto Serif CJK SC',serif">邱敏</text>
<text class="t3" x="1216" y="1087" style="font-family:'Liberation Serif',serif">2014-02-23</text>
<text class="t3" x="1314" y="985" style="font-family:'Liberation Serif','Noto Serif CJK SC',serif">TF PUSH 4.0卡座 1.45H</text>
<text class="t3" x="1398" y="1014" style="font-family:'Liberation Serif',serif">HYC154-TF18-145</text>
<text class="t3" x="1398" y="1065" style="font-family:'Liberation Serif',serif">HYC-2502241751</text>
<text class="t3" x="1398" y="1090" style="font-family:'Liberation Serif',serif">1 OF 1</text>
</g>
</svg>
</body></html>
